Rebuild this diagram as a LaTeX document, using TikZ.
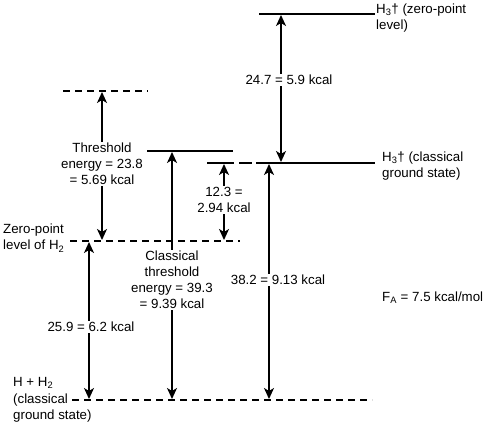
\documentclass[tikz,border=0pt]{standalone}
\usepackage{fontspec}
\setmainfont{Liberation Sans}
\usetikzlibrary{arrows.meta}
\begin{document}
\begin{tikzpicture}[x=1pt,y=-1pt,
  lvl/.style={line width=1.3pt},
  dlvl/.style={line width=1.3pt,dash pattern=on 7pt off 5pt},
  tip/.style={Stealth[length=11pt,width=10pt,inset=3pt]},
  arr/.style={line width=1.6pt,{Stealth[length=11pt,width=10pt,inset=3pt]}-{Stealth[length=11pt,width=10pt,inset=3pt]}, shorten <=1pt, shorten >=1pt},
  lab/.style={fill=white,inner sep=1pt,align=center,font=\fontsize{13.3}{16}\selectfont},
  txt/.style={inner sep=0pt,align=left,font=\fontsize{13.3}{16.5}\selectfont}]
\useasboundingbox (0,0) rectangle (485,427);
% level lines
\coordinate (topA) at (63,91);   \coordinate (topB) at (148,91);
\coordinate (thrA) at (147,151); \coordinate (thrB) at (233,151);
\coordinate (hcA) at (207,163);  \coordinate (hcB) at (375,163);
\coordinate (hzA) at (259,14);   \coordinate (hzB) at (375,14);
\coordinate (zpA) at (70,241);   \coordinate (zpB) at (240,241);
\coordinate (gsA) at (72,400);   \coordinate (gsB) at (372,400);
\draw[dlvl] (topA) -- (topB);
\draw[lvl] (thrA) -- (thrB);
\draw[lvl] (hcA) -- (234,163) (239,163) -- (252,163) (256,163) -- (hcB);
\draw[lvl] (hzA) -- (hzB);
\draw[dlvl] (zpA) -- (zpB);
\draw[dlvl] (gsA) -- (gsB);
% arrow ends
\coordinate (a1) at (102,91);  \coordinate (a2) at (102,241);
\coordinate (b1) at (172,151); \coordinate (b2) at (172,400);
\coordinate (c1) at (224,163); \coordinate (c2) at (224,241);
\coordinate (d1) at (281,14);  \coordinate (d2) at (281,163);
\coordinate (e1) at (269,163); \coordinate (e2) at (269,400);
\coordinate (f1) at (89,241);  \coordinate (f2) at (89,400);
\draw[arr] (a1) -- (a2);
\draw[arr] (b1) -- (b2);
\draw[arr] (c1) -- (c2);
\draw[arr] (d1) -- (d2);
\draw[arr] (e1) -- (e2);
\draw[arr] (f1) -- (f2);
% arrow labels
\node[lab] (la) at (102,164) {Threshold\\energy = 23.8\\= 5.69 kcal};
\node[lab] (lb) at (172,280) {Classical\\threshold\\energy = 39.3\\= 9.39 kcal};
\node[lab] (lc) at (224,200) {12.3 =\\2.94 kcal};
\node[lab] (ld) at (289,80) {24.7 = 5.9 kcal};
\node[lab] (le) at (278,280) {38.2 = 9.13 kcal};
\node[lab] (lf) at (91,327) {25.9 = 6.2 kcal};
% level texts
\node[txt,anchor=west] (thz) at (376,18) {H\textsubscript{3}† (zero-point\\level)};
\node[txt,anchor=west] (thc) at (382,166) {H\textsubscript{3}† (classical\\ground state)};
\node[txt,anchor=west] (tzp) at (3,238) {Zero-point\\level of H\textsubscript{2}};
\node[txt,anchor=west] (tgs) at (13,400) {H + H\textsubscript{2}\\(classical\\ground state)};
\node[txt,anchor=west] (tfa) at (382,298) {F\textsubscript{A} = 7.5 kcal/mol};
\end{tikzpicture}
\end{document}
